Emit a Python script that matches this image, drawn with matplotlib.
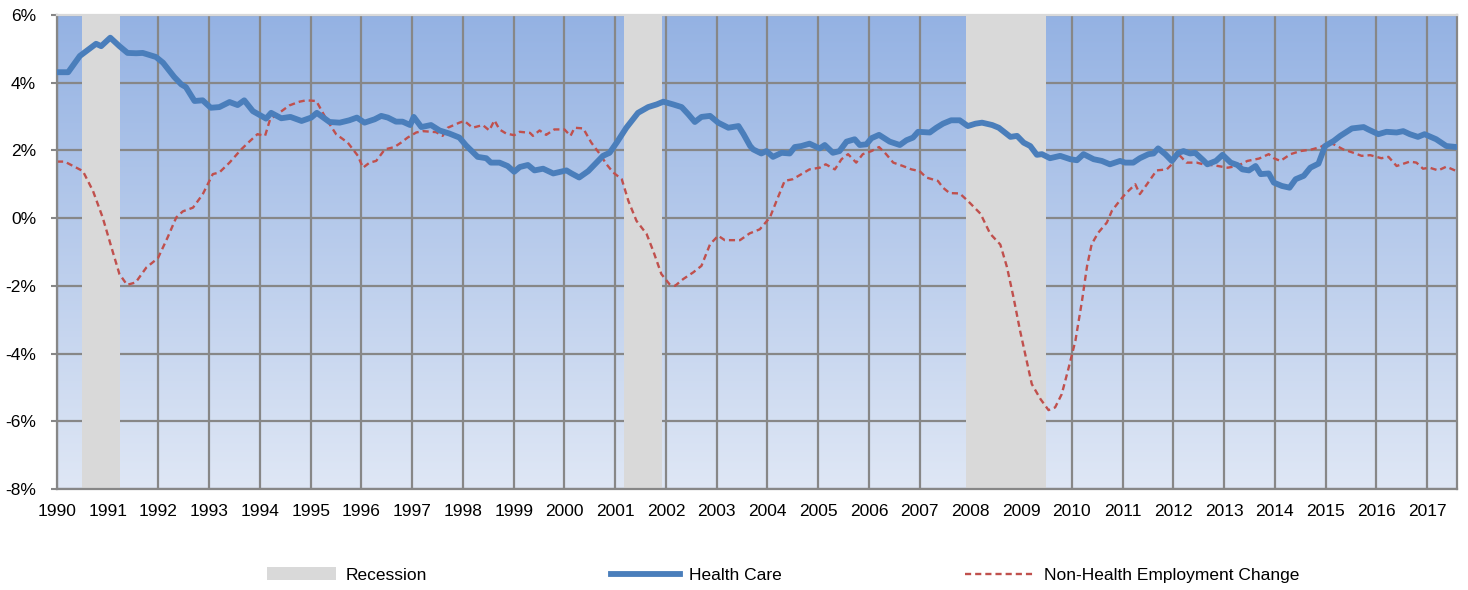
import numpy as np
import matplotlib.pyplot as plt
from matplotlib.ticker import FuncFormatter
from matplotlib.patches import Patch
from matplotlib.lines import Line2D

plt.rcParams['font.family'] = ['Liberation Sans', 'DejaVu Sans']

# recession periods (start, end) in fractional years
recessions = [(1990.5, 1991.25), (2001.17, 2001.92), (2007.92, 2009.5)]

# health care employment growth, y/y %
hc_year = [1990.0, 1990.22, 1990.45, 1990.77, 1990.87, 1991.05, 1991.23, 1991.39, 1991.56, 1991.69,
           1991.95, 1992.09, 1992.31, 1992.45, 1992.54, 1992.71, 1992.87, 1993.03, 1993.2, 1993.4,
           1993.56, 1993.69, 1993.86, 1994.12, 1994.22, 1994.42, 1994.6, 1994.82, 1995.01, 1995.12,
           1995.37, 1995.57, 1995.76, 1995.91, 1996.06, 1996.26, 1996.39, 1996.52, 1996.68, 1996.81,
           1996.96, 1997.03, 1997.18, 1997.37, 1997.54, 1997.73, 1997.93, 1998.06, 1998.29, 1998.46,
           1998.55, 1998.72, 1998.88, 1999.01, 1999.12, 1999.28, 1999.41, 1999.58, 1999.78, 2000.04,
           2000.14, 2000.29, 2000.47, 2000.63, 2000.76, 2000.89, 2001.03, 2001.22, 2001.45, 2001.65,
           2001.82, 2001.95, 2002.14, 2002.31, 2002.44, 2002.57, 2002.7, 2002.87, 2003.03, 2003.23,
           2003.43, 2003.53, 2003.66, 2003.72, 2003.88, 2003.98, 2004.11, 2004.28, 2004.44, 2004.54,
           2004.67, 2004.83, 2005.03, 2005.13, 2005.29, 2005.42, 2005.56, 2005.72, 2005.82, 2005.95,
           2006.05, 2006.2, 2006.41, 2006.61, 2006.74, 2006.87, 2006.97, 2007.2, 2007.33, 2007.46,
           2007.62, 2007.79, 2007.95, 2008.1, 2008.23, 2008.43, 2008.56, 2008.79, 2008.92, 2009.05,
           2009.18, 2009.31, 2009.41, 2009.57, 2009.77, 2009.97, 2010.1, 2010.23, 2010.43, 2010.59,
           2010.75, 2010.95, 2011.05, 2011.21, 2011.34, 2011.51, 2011.61, 2011.7, 2011.84, 2011.97,
           2012.1, 2012.2, 2012.33, 2012.43, 2012.59, 2012.67, 2012.84, 2012.97, 2013.13, 2013.26,
           2013.36, 2013.49, 2013.62, 2013.72, 2013.88, 2013.98, 2014.14, 2014.29, 2014.41, 2014.57,
           2014.7, 2014.86, 2014.99, 2015.16, 2015.29, 2015.52, 2015.75, 2015.84, 2016.04, 2016.2,
           2016.4, 2016.53, 2016.66, 2016.82, 2016.95, 2017.18, 2017.38, 2017.58]
hc_val = [4.31, 4.31, 4.79, 5.15, 5.08, 5.33, 5.08, 4.88, 4.87, 4.88,
          4.76, 4.59, 4.17, 3.95, 3.87, 3.46, 3.48, 3.26, 3.28, 3.43,
          3.34, 3.48, 3.16, 2.94, 3.11, 2.95, 2.99, 2.87, 2.97, 3.11,
          2.84, 2.82, 2.89, 2.97, 2.82, 2.92, 3.02, 2.97, 2.85, 2.85,
          2.75, 2.99, 2.69, 2.75, 2.59, 2.5, 2.38, 2.15, 1.81, 1.77,
          1.64, 1.64, 1.54, 1.37, 1.51, 1.57, 1.41, 1.46, 1.32, 1.41,
          1.32, 1.2, 1.39, 1.64, 1.84, 1.93, 2.23, 2.67, 3.11, 3.28,
          3.36, 3.44, 3.36, 3.28, 3.07, 2.84, 2.99, 3.02, 2.82, 2.67,
          2.72, 2.48, 2.13, 2.03, 1.91, 1.98, 1.81, 1.93, 1.91, 2.1,
          2.13, 2.2, 2.06, 2.16, 1.93, 1.98, 2.26, 2.33, 2.16, 2.18,
          2.36, 2.46, 2.26, 2.16, 2.3, 2.38, 2.55, 2.53, 2.67, 2.79,
          2.89, 2.89, 2.72, 2.79, 2.82, 2.75, 2.67, 2.4, 2.43, 2.23,
          2.13, 1.87, 1.89, 1.77, 1.84, 1.74, 1.71, 1.89, 1.74, 1.69,
          1.59, 1.69, 1.64, 1.64, 1.77, 1.89, 1.91, 2.06, 1.89, 1.69,
          1.93, 1.98, 1.91, 1.93, 1.71, 1.59, 1.69, 1.87, 1.64, 1.57,
          1.44, 1.41, 1.54, 1.3, 1.32, 1.05, 0.95, 0.9, 1.15, 1.25,
          1.49, 1.61, 2.13, 2.28, 2.43, 2.65, 2.69, 2.62, 2.48, 2.55,
          2.53, 2.57, 2.48, 2.4, 2.48, 2.33, 2.13, 2.1]

# non-health employment change, y/y %
nh_year = [1990.0, 1990.15, 1990.51, 1990.71, 1990.9, 1991.1, 1991.23, 1991.38, 1991.55, 1991.76,
           1991.99, 1992.18, 1992.35, 1992.48, 1992.68, 1992.87, 1993.07, 1993.2, 1993.4, 1993.63,
           1993.79, 1993.95, 1994.1, 1994.2, 1994.38, 1994.58, 1994.78, 1994.91, 1995.11, 1995.31,
           1995.5, 1995.73, 1995.93, 1996.03, 1996.16, 1996.29, 1996.46, 1996.65, 1996.78, 1996.91,
           1997.08, 1997.21, 1997.47, 1997.6, 1997.7, 1997.93, 1998.03, 1998.19, 1998.39, 1998.52,
           1998.62, 1998.72, 1998.85, 1999.01, 1999.12, 1999.32, 1999.38, 1999.51, 1999.64, 1999.8,
           2000.0, 2000.12, 2000.2, 2000.37, 2000.53, 2000.7, 2000.83, 2000.96, 2001.13, 2001.26,
           2001.42, 2001.62, 2001.75, 2001.91, 2002.07, 2002.18, 2002.34, 2002.54, 2002.7, 2002.87,
           2003.03, 2003.16, 2003.46, 2003.65, 2003.85, 2004.05, 2004.18, 2004.34, 2004.5, 2004.67,
           2004.83, 2005.03, 2005.15, 2005.33, 2005.46, 2005.59, 2005.75, 2005.88, 2006.05, 2006.2,
           2006.34, 2006.48, 2006.67, 2006.84, 2007.0, 2007.13, 2007.36, 2007.46, 2007.59, 2007.79,
           2007.95, 2008.2, 2008.39, 2008.59, 2008.72, 2008.85, 2008.98, 2009.11, 2009.21, 2009.38,
           2009.54, 2009.67, 2009.8, 2009.93, 2010.07, 2010.2, 2010.3, 2010.39, 2010.52, 2010.69,
           2010.79, 2010.92, 2011.05, 2011.25, 2011.34, 2011.48, 2011.67, 2011.87, 2011.97, 2012.1,
           2012.26, 2012.46, 2012.59, 2012.8, 2013.07, 2013.26, 2013.46, 2013.69, 2013.88, 2013.98,
           2014.11, 2014.31, 2014.5, 2014.73, 2014.9, 2015.06, 2015.16, 2015.35, 2015.55, 2015.71,
           2015.88, 2016.1, 2016.24, 2016.4, 2016.66, 2016.79, 2016.92, 2017.05, 2017.22, 2017.38,
           2017.58]
nh_val = [1.67, 1.67, 1.39, 0.8, 0.02, -1.0, -1.65, -1.97, -1.9, -1.46,
          -1.18, -0.57, 0.02, 0.2, 0.31, 0.7, 1.3, 1.35, 1.64, 2.03,
          2.26, 2.48, 2.43, 2.92, 3.11, 3.33, 3.44, 3.48, 3.46, 2.92,
          2.48, 2.23, 1.84, 1.49, 1.64, 1.69, 2.03, 2.1, 2.23, 2.38,
          2.53, 2.57, 2.54, 2.43, 2.67, 2.82, 2.87, 2.67, 2.75, 2.59,
          2.89, 2.62, 2.5, 2.45, 2.55, 2.52, 2.43, 2.59, 2.46, 2.62,
          2.62, 2.43, 2.67, 2.65, 2.23, 1.89, 1.59, 1.35, 1.15, 0.51,
          -0.08, -0.47, -0.97, -1.65, -1.95, -2.0, -1.8, -1.6, -1.41, -0.77,
          -0.52, -0.65, -0.65, -0.45, -0.33, 0.02, 0.51, 1.1, 1.15, 1.3,
          1.44, 1.49, 1.59, 1.44, 1.74, 1.89, 1.64, 1.89, 1.98, 2.1,
          1.89, 1.64, 1.54, 1.44, 1.39, 1.2, 1.1, 0.9, 0.74, 0.73,
          0.51, 0.13, -0.46, -0.78, -1.44, -2.34, -3.33, -4.21, -4.9, -5.34,
          -5.67, -5.59, -5.2, -4.46, -3.62, -2.44, -1.41, -0.77, -0.43, -0.13,
          0.22, 0.47, 0.71, 1.0, 0.71, 1.0, 1.41, 1.44, 1.59, 1.89,
          1.64, 1.64, 1.59, 1.56, 1.49, 1.54, 1.69, 1.76, 1.89, 1.77,
          1.69, 1.89, 1.98, 2.03, 2.1, 2.23, 2.18, 2.03, 1.93, 1.84,
          1.86, 1.77, 1.81, 1.54, 1.67, 1.64, 1.46, 1.49, 1.41, 1.52,
          1.39]

x_ticks = list(range(1990, 2018))
y_ticks = [-8, -6, -4, -2, 0, 2, 4, 6]

fig = plt.figure(figsize=(14.68, 5.9), dpi=100)
ax = fig.add_axes([57 / 1468, 1 - 489 / 590, 1400 / 1468, 474 / 590])

x0, x1 = 1990, 2017.59
ylo, yhi = -8, 6

# blue vertical gradient background
top = np.array([148, 178, 227]) / 255
bot = np.array([223, 231, 245]) / 255
t = np.linspace(0, 1, 256)[:, None]
grad = (top * (1 - t) + bot * t)[:, None, :]
ax.imshow(grad, extent=[x0, x1, ylo, yhi], aspect='auto', origin='upper', zorder=0)

ax.set_axisbelow(True)
ax.grid(True, color='#878787', linewidth=1.6)

for s, e in recessions:
    ax.axvspan(s, e, color='#D9D9D9', zorder=1, linewidth=0)

ax.plot(nh_year, nh_val, color='#C0504D', linewidth=1.7, dashes=(2.6, 1.7), zorder=2)
ax.plot(hc_year, hc_val, color='#4A7EBB', linewidth=4.2, solid_joinstyle='round',
        solid_capstyle='round', zorder=3)

ax.set_xlim(x0, x1)
ax.set_ylim(ylo, yhi)
ax.set_xticks(x_ticks)
ax.set_yticks(y_ticks)
ax.yaxis.set_major_formatter(FuncFormatter(lambda v, p: '%d%%' % v))
ax.tick_params(axis='x', length=0, pad=11, labelsize=12.5)
ax.tick_params(axis='y', length=4, width=1.5, color='#878787', pad=11, labelsize=12.5)

for side in ['left', 'bottom', 'right']:
    ax.spines[side].set_color('#878787')
    ax.spines[side].set_linewidth(1.6)
ax.spines['top'].set_color('#D9D9D9')
ax.spines['top'].set_linewidth(1.6)

handles = [Patch(facecolor='#D9D9D9', edgecolor='none'),
           Line2D([], [], color='#4A7EBB', linewidth=4.2),
           Line2D([], [], color='#C0504D', linewidth=1.7, dashes=(2.6, 1.7))]
labels = ['Recession', 'Health Care', 'Non-Health Employment Change']
fig.legend(handles, labels, loc='center', bbox_to_anchor=(783 / 1468, 1 - 575 / 590), ncol=3,
           frameon=False, fontsize=12.5, handlelength=4, handletextpad=0.5, columnspacing=10.6)

fig.savefig('out.png', dpi=100)
